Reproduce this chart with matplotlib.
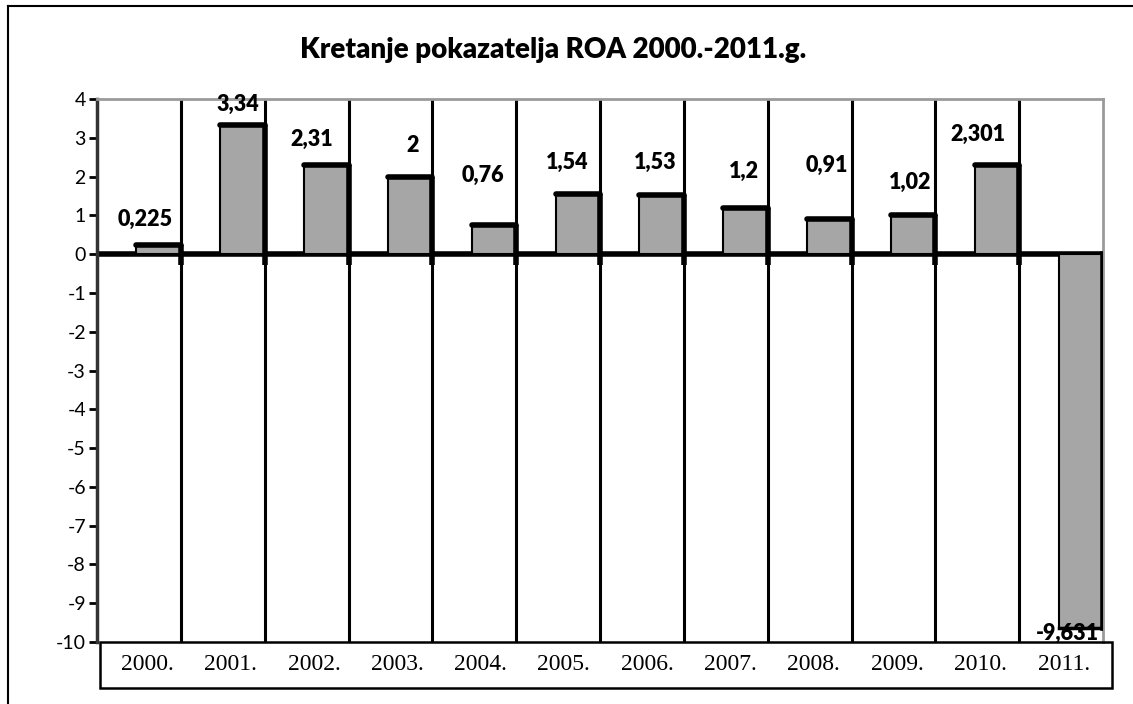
import numpy as np
import matplotlib
matplotlib.use("Agg")
import matplotlib.pyplot as plt
from matplotlib.lines import Line2D
from matplotlib.patches import Rectangle

# data
years = ['2000.', '2001.', '2002.', '2003.', '2004.', '2005.',
         '2006.', '2007.', '2008.', '2009.', '2010.', '2011.']
roa = [0.225, 3.34, 2.31, 2, 0.76, 1.54, 1.53, 1.2, 0.91, 1.02, 2.301, -9.631]

# hand placed label spots (data coords), as in the original sheet
label_x = [0.57, 1.68, 2.56, 3.76, 4.60, 5.61, 6.66, 7.72, 8.70, 9.70, 10.51, 11.57]
label_y = [0.9, 3.86, 2.96, 2.8, 2.03, 2.36, 2.36, 2.13, 2.3, 1.85, 3.08, -9.77]

W, H = 1133, 704
fig = plt.figure(figsize=(W / 100, H / 100), dpi=100)
fig.patch.set_facecolor('white')

def fx(px):
    return px / W

def fy(py):
    return 1 - py / H

# outer frame (cut off at right/bottom like the scan)
fig.add_artist(Line2D([fx(8), fx(8)], [fy(6), 0], color='black', lw=1.5))
fig.add_artist(Line2D([fx(8), 1], [fy(6), fy(6)], color='black', lw=1.5))

ax = fig.add_axes([fx(97), fy(642), fx(1103) - fx(97), fy(99) - fy(642)])
ax.set_xlim(0, 12)
ax.set_ylim(-10, 4)

n = len(years)
bar_w = 0.53
lefts = np.arange(n) + 1 - bar_w

ax.bar(lefts, roa, width=bar_w, align='edge', color='#a6a6a6',
       edgecolor='black', linewidth=1.5, zorder=3)

# thick "shadow" edges on top/right of each bar
for l, v in zip(lefts, roa):
    r = l + bar_w
    if v >= 0:
        ax.plot([l, r], [v, v], color='black', lw=4, solid_capstyle='round', zorder=4)
        ax.plot([r, r], [v, -0.28], color='black', lw=4, solid_capstyle='butt', zorder=4)
    else:
        ax.plot([r, r], [0, v], color='black', lw=4, solid_capstyle='projecting', zorder=4)
        ax.plot([l, r], [v, v], color='black', lw=2.5, zorder=4)

# category separators and zero line
for i in range(1, n):
    ax.axvline(i, color='black', lw=2.2, zorder=2)
ax.axhline(0, color='black', lw=4, zorder=2)

for x, y, v in zip(label_x, label_y, roa):
    ax.text(x, y, f"{v:g}".replace('.', ','), ha='center', va='center',
            fontsize=15.5, fontweight='heavy', family='Lato', color='black', zorder=6)

ax.set_yticks(range(-10, 5))
ax.set_yticklabels([str(t) for t in range(-10, 5)], family='Lato', fontsize=14)
ax.tick_params(axis='y', length=6, width=2, color='black', pad=2)
ax.set_xticks([])

ax.spines['left'].set_color('#333333')
ax.spines['left'].set_linewidth(2.5)
ax.spines['top'].set_color('#9a9a9a')
ax.spines['right'].set_color('#9a9a9a')
ax.spines['top'].set_linewidth(2)
ax.spines['right'].set_linewidth(2)
ax.spines['bottom'].set_visible(False)

# category label box under the plot
fig.add_artist(Rectangle((fx(100), fy(688)), fx(1112) - fx(100), fy(642) - fy(688),
                         transform=fig.transFigure, fill=False, edgecolor='black', lw=1.8))
for x, lab in zip(np.linspace(0.6, 11.53, n), years):
    px = 97 + x * (1103 - 97) / 12
    fig.text(fx(px), fy(665), lab, ha='center', va='center',
             fontsize=17, family='Liberation Serif')

fig.text(fx(553), fy(50), 'Kretanje pokazatelja ROA 2000.-2011.g.', ha='center', va='center',
         fontsize=20, fontweight='heavy', family='Lato')

plt.savefig('out.png', dpi=100)
